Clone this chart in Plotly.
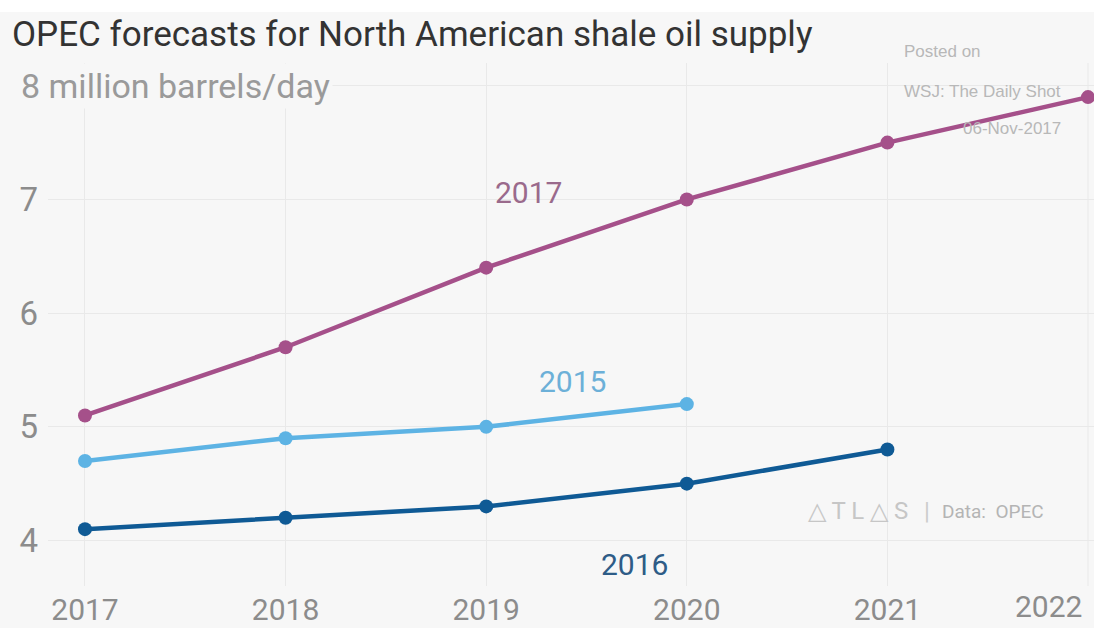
import plotly.graph_objects as go

# OPEC forecasts of North American shale oil supply (million barrels/day)
years = [2017, 2018, 2019, 2020, 2021, 2022]
forecast_2017 = [5.1, 5.7, 6.4, 7.0, 7.5, 7.9]
forecast_2015 = [4.7, 4.9, 5.0, 5.2]
forecast_2016 = [4.1, 4.2, 4.3, 4.5, 4.8]

y_ticks = [4, 5, 6, 7, 8]
y_tick_text = ["4", "5", "6", "7", ""]
x_tick_text = ["2017", "2018", "2019", "2020", "2021", "2022"]

BG = "#f7f7f7"
GRID = "#e9e9e9"
REG = "Roboto, Liberation Sans, sans-serif"
TICK_FONT = dict(family=REG, size=30, color="#8c8c8c")

series = [
    ("2017", years, forecast_2017, "#a5508a"),
    ("2015", years[:len(forecast_2015)], forecast_2015, "#5db3e4"),
    ("2016", years[:len(forecast_2016)], forecast_2016, "#0f5a95"),
]

fig = go.Figure()
for name, xs, ys, color in series:
    fig.add_trace(go.Scatter(
        x=xs, y=ys, name=name, mode="lines+markers",
        line=dict(color=color, width=4.5),
        marker=dict(color=color, size=14),
        cliponaxis=False, showlegend=False,
    ))

# Series labels
labels = [
    ("2017", 2019.21, 7.06, "#9a6a8c"),
    ("2015", 2019.43, 5.40, "#6cb0d8"),
    ("2016", 2019.74, 3.79, "#2e5c87"),
]
annotations = []
for text, x, y, color in labels:
    annotations.append(dict(
        x=x, y=y, xref="x", yref="y", text=text, showarrow=False,
        font=dict(family=REG, size=30, color=color),
        xanchor="center", yanchor="middle",
    ))

# Last year label sits right-aligned to its gridline so it stays on the canvas
annotations.append(dict(
    x=years[-1], xref="x", xanchor="right", xshift=-5,
    y=1 - (606 - 63) / 523, yref="paper", yanchor="middle",
    text=x_tick_text[-1], showarrow=False, font=TICK_FONT, borderpad=0,
))

# Unit label on the top gridline
annotations.append(dict(
    x=-0.0287, y=8, xref="paper", yref="y", text="8 million barrels/day",
    showarrow=False, xanchor="left", yanchor="middle",
    font=dict(family=REG, size=34, color="#9a9a9a"),
    bgcolor=BG, borderpad=2,
))

# Source watermark
wm_font = dict(family="Liberation Sans, Arial, sans-serif", size=17, color="#b8b8b8")
wm = [
    dict(x=902, y=52, text="Posted on", xanchor="left"),
    dict(x=902, y=92, text="WSJ: The Daily Shot", xanchor="left"),
    dict(x=1063, y=128, text="06-Nov-2017", xanchor="right"),
]
for a in wm:
    a.update(xref="paper", yref="paper", showarrow=False, yanchor="middle", font=wm_font)
    a["x"] = (a["x"] - 48) / 1046
    a["y"] = 1 - (a["y"] - 63) / 523
annotations += wm

logo_y = 1 - (511 - 63) / 523
annotations += [
    dict(x=(806 - 48) / 1046, y=logo_y, xref="paper", yref="paper",
         text="△ T L △ S", showarrow=False, xanchor="left", yanchor="middle",
         font=dict(family=REG, size=24, color="#c6c6c6")),
    dict(x=(927 - 48) / 1046, y=logo_y, xref="paper", yref="paper",
         text="|", showarrow=False, xanchor="center", yanchor="middle",
         font=dict(family=REG, size=24, color="#cccccc")),
    dict(x=(940 - 48) / 1046, y=logo_y, xref="paper", yref="paper",
         text="Data:  OPEC", showarrow=False, xanchor="left", yanchor="middle",
         font=dict(family=REG, size=19, color="#b4b4b4")),
]

fig.update_layout(
    width=1094, height=628,
    margin=dict(l=48, r=0, t=63, b=42),
    paper_bgcolor=BG, plot_bgcolor=BG,
    title=dict(
        text="OPEC forecasts for North American shale oil supply",
        x=12 / 1094, xanchor="left", xref="container",
        y=1 - 34 / 628, yanchor="middle", yref="container",
        font=dict(family=REG, size=35, color="#333333"),
    ),
    xaxis=dict(
        range=[2016.8156, 2022.0299], automargin=False,
        tickvals=years[:-1], ticktext=x_tick_text[:-1],
        showgrid=True, gridcolor=GRID, gridwidth=1,
        zeroline=False, showline=False, ticks="",
        tickfont=TICK_FONT, ticklabelstandoff=3,
    ),
    yaxis=dict(
        range=[3.6, 8.2], automargin=False,
        tickvals=y_ticks, ticktext=y_tick_text,
        showgrid=True, gridcolor=GRID, gridwidth=1,
        zeroline=False, showline=False, ticks="",
        tickfont=dict(family=REG, size=33, color="#8c8c8c"),
        ticklabelstandoff=9,
    ),
    shapes=[
        dict(type="rect", xref="paper", yref="paper",
             x0=-0.05, x1=1.01, y0=1 + (63 - 12) / 523, y1=1 + 64 / 523,
             fillcolor="white", line=dict(width=0), layer="below"),
        # gridline for the final year (its tick label is drawn as an annotation)
        dict(type="line", xref="x", yref="paper", x0=years[-1], x1=years[-1],
             y0=0, y1=1, line=dict(color=GRID, width=1), layer="below"),
    ],
    annotations=annotations,
)

fig.write_html("out.html")
